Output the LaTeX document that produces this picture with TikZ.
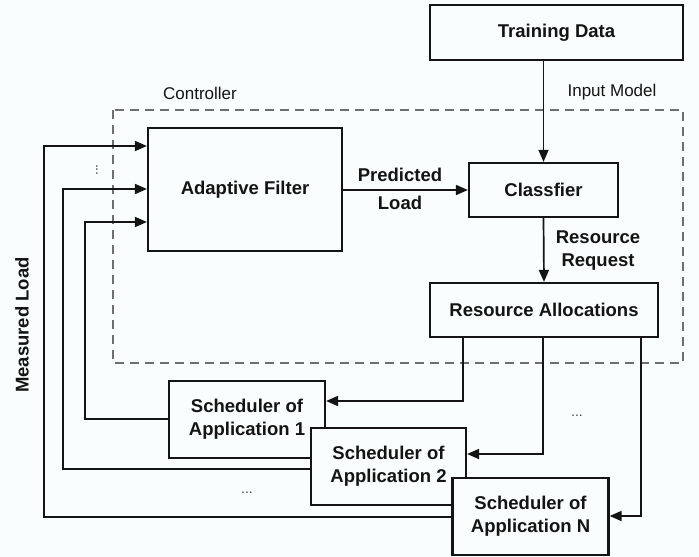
\documentclass[tikz,border=0pt]{standalone}
\usepackage{fontspec}
\setmainfont{Liberation Sans}
\usetikzlibrary{arrows.meta}
\definecolor{paper}{RGB}{250,253,253}
\definecolor{ink}{RGB}{20,20,20}
\definecolor{dashgray}{RGB}{110,110,110}
\tikzset{
  box/.style={draw=ink, line width=2.2pt, fill=paper, inner sep=0pt, align=center,
              text=ink, font=\bfseries\fontsize{18.5}{23}\selectfont},
  lbl/.style={inner sep=0pt, align=center, text=ink, font=\bfseries\fontsize{18.5}{23}\selectfont},
  conn/.style={draw=ink, line width=1.7pt},
  arr/.style={conn, -{Triangle[length=12pt,width=10pt]}},
  dots/.style={inner sep=0pt, text=ink!80, font=\fontsize{14}{14}\selectfont},
}
\begin{document}
\begin{tikzpicture}[x=1pt,y=-1pt]
  \useasboundingbox[fill=paper] (0,0) rectangle (699,557);

  % controller boundary
  \draw[dashgray, line width=2pt, dash pattern=on 9pt off 6pt] (113,110) rectangle (683,363);
  \node[lbl, font=\fontsize{17}{20}\selectfont] (ctrl) at (200,93) {Controller};
  \node[lbl, font=\fontsize{17}{20}\selectfont] (inmodel) at (612,92) {Input Model};

  % blocks
  \node[box, minimum width=253pt, minimum height=55pt] (td) at (556.5,32.5) {Training Data};
  \node[box, minimum width=194pt, minimum height=123pt] (af) at (245,189.5) {Adaptive Filter};
  \node[box, minimum width=149pt, minimum height=54pt] (cl) at (543.5,190) {Classfier};
  \node[box, minimum width=228pt, minimum height=54pt] (ra) at (544,310) {Resource Allocations};
  \node[box, minimum width=156pt, minimum height=77pt] (s1) at (247,419.5) {Scheduler of\\Application 1};
  \node[box, minimum width=155pt, minimum height=77pt] (s2) at (388.5,466.5) {Scheduler of\\Application 2};
  \node[box, minimum width=156pt, minimum height=77pt] (sn) at (530.5,516.5) {Scheduler of\\Application N};

  % input model path
  \draw[arr, line width=1.4pt] (td.south -| cl.north) -- (cl.north);
  \draw[arr] (af.east |- cl.west) -- (cl.west);
  \node[lbl, font=\bfseries\fontsize{18.5}{28}\selectfont] (pl) at (400,189) {Predicted\\Load};
  \draw[arr] (cl.south) -- (ra.north);
  \node[lbl] (rr) at (598,250.5) {Resource\\Request};

  % allocations to schedulers
  \coordinate (k1) at (463,401);
  \coordinate (k2) at (543,454);
  \coordinate (k3) at (641,516);
  \draw[arr] (ra.south -| k1) -- (k1) -- (k1 -| s1.east);
  \draw[arr] (ra.south -| k2) -- (k2) -- (k2 -| s2.east);
  \draw[arr] (ra.south -| k3) -- (k3) -- (k3 -| sn.east);

  % measured load feedback
  \coordinate (f1a) at (85,419);  \coordinate (f1b) at (85,222);
  \coordinate (f2a) at (63,469);  \coordinate (f2b) at (63,189);
  \coordinate (f3a) at (44,517);  \coordinate (f3b) at (44,146);
  \draw[arr] (s1.west |- f1a) -- (f1a) -- (f1b) -- (f1b -| af.west);
  \draw[arr] (s2.west |- f2a) -- (f2a) -- (f2b) -- (f2b -| af.west);
  \draw[arr] (sn.west |- f3a) -- (f3a) -- (f3b) -- (f3b -| af.west);
  \node[lbl, rotate=90] (ml) at (22,325) {Measured Load};

  % ellipses for further applications
  \node[dots, rotate=90] (d1) at (97,170) {...};
  \node[dots] (d2) at (577,416) {...};
  \node[dots] (d3) at (247,493) {...};
\end{tikzpicture}
\end{document}
